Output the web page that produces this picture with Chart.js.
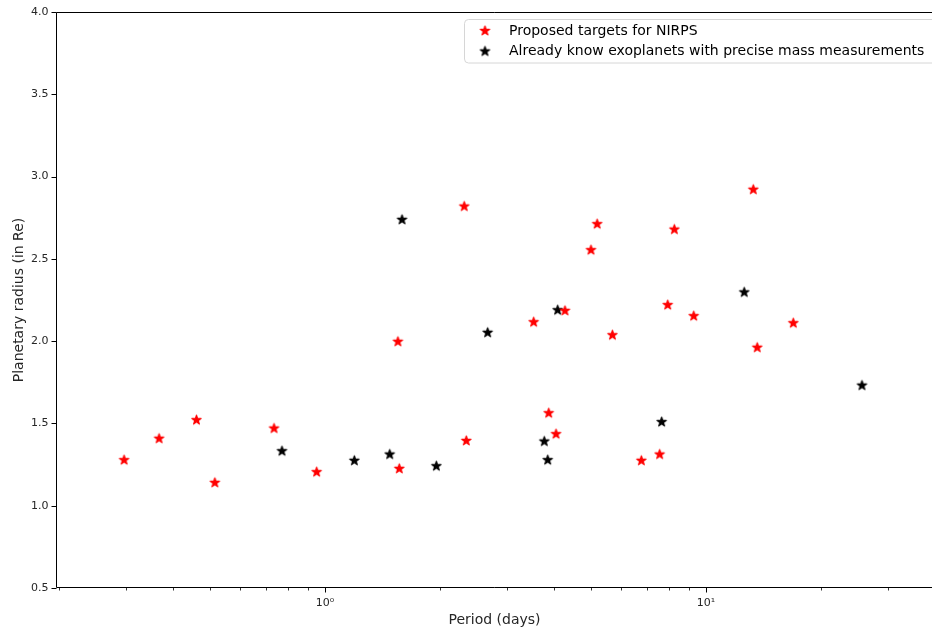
<!DOCTYPE html>
<html>
<head>
<meta charset="utf-8">
<script src="https://cdn.jsdelivr.net/npm/chart.js@4/dist/chart.umd.min.js"></script>
<style>
  html, body { margin: 0; padding: 0; background: #ffffff; overflow: hidden; }
  #wrap { width: 932px; height: 630px; }
</style>
</head>
<body>
<div id="wrap"><canvas id="c" width="932" height="630"></canvas></div>
<script>
// ---- data ----
const nirpsPeriod = [0.297, 0.367, 0.46, 0.514, 0.735, 0.951, 1.554, 1.567, 2.32, 2.349, 3.529, 3.865, 4.04, 4.265, 4.99, 5.18, 5.68, 6.765, 7.558, 7.935, 8.258, 9.284, 13.31, 13.63, 16.95];
const nirpsRadius = [1.28, 1.41, 1.523, 1.142, 1.472, 1.207, 1.999, 1.227, 2.821, 1.397, 2.118, 1.565, 1.438, 2.187, 2.556, 2.714, 2.039, 1.276, 1.314, 2.222, 2.681, 2.155, 2.923, 1.963, 2.112];
const knownPeriod = [0.771, 1.194, 1.479, 1.593, 1.96, 2.673, 3.764, 3.842, 4.08, 7.65, 12.6, 25.67];
const knownRadius = [1.334, 1.276, 1.314, 2.74, 1.243, 2.054, 1.393, 1.28, 2.191, 1.511, 2.299, 1.733];

const seriesLabels = ['Proposed targets for NIRPS', 'Already know exoplanets with precise mass measurements'];
const xTickValues = [0.2, 0.3, 0.4, 0.5, 0.6, 0.7, 0.8, 0.9, 1, 2, 3, 4, 5, 6, 7, 8, 9, 10, 20, 30];
const xMajorLabels = { 1: '10\u2070', 10: '10\u00B9' };
const yTickValues = [0.5, 1.0, 1.5, 2.0, 2.5, 3.0, 3.5, 4.0];
const xTitle = 'Period (days)';
const yTitle = 'Planetary radius (in Re)';

const FONT = 'DejaVu Sans';

function makeStar(color) {
  const size = 13;
  const cv = document.createElement('canvas');
  cv.width = size; cv.height = size;
  const g = cv.getContext('2d');
  const cx = size / 2, cy = size / 2 + 0.4;
  const R = 4.9, r = R * 0.381966;
  g.beginPath();
  for (let i = 0; i < 10; i++) {
    const rad = (i % 2 === 0) ? R : r;
    const a = -Math.PI / 2 + i * Math.PI / 5;
    const px = cx + rad * Math.cos(a), py = cy + rad * Math.sin(a);
    if (i === 0) g.moveTo(px, py); else g.lineTo(px, py);
  }
  g.closePath();
  g.fillStyle = color; g.fill();
  g.lineWidth = 1.2; g.lineJoin = 'round'; g.strokeStyle = color; g.stroke();
  return cv;
}
const redStar = makeStar('#ff0000');
const blackStar = makeStar('#000000');

const toPts = (xs, ys) => xs.map((x, i) => ({ x: x, y: ys[i] }));

const zeroPad = s => { s.paddingTop = 0; s.paddingBottom = 0; s.paddingLeft = 0; s.paddingRight = 0; };

const framePlugin = {
  id: 'frame',
  afterDraw(chart) {
    const ctx = chart.ctx;
    const a = chart.chartArea;
    const xs = chart.scales.x, ys = chart.scales.y;
    ctx.save();
    ctx.strokeStyle = '#000000';
    ctx.lineWidth = 1;
    const L = Math.round(a.left) - 0.5, T = Math.round(a.top) + 0.5, B = Math.round(a.bottom) - 0.5;
    ctx.beginPath();
    ctx.moveTo(L, B); ctx.lineTo(L, T); ctx.lineTo(chart.width, T);
    ctx.moveTo(L, B); ctx.lineTo(chart.width, B);
    ctx.stroke();
    // tick marks
    xTickValues.forEach(v => {
      const px = Math.round(xs.getPixelForValue(v)) + 0.5;
      const major = (v === 1 || v === 10);
      const len = major ? 5 : 3;
      ctx.lineWidth = major ? 1 : 0.8;
      ctx.beginPath(); ctx.moveTo(px, B); ctx.lineTo(px, B + len); ctx.stroke();
    });
    ctx.lineWidth = 1;
    yTickValues.forEach(v => {
      const py = Math.round(ys.getPixelForValue(v)) + 0.5;
      ctx.beginPath(); ctx.moveTo(L, py); ctx.lineTo(L - 5, py); ctx.stroke();
    });
    // legend
    const bx = 464.5, by = 19.5, bw = 520, bh = 43.5, rr = 4;
    ctx.globalAlpha = 0.8;
    ctx.fillStyle = '#ffffff';
    ctx.beginPath();
    ctx.roundRect(bx, by, bw, bh, rr);
    ctx.fill();
    ctx.globalAlpha = 1;
    ctx.strokeStyle = '#d6d6d6';
    ctx.lineWidth = 1;
    ctx.stroke();
    const rows = [30.5, 51];
    chart.data.datasets.forEach((ds, i) => {
      const img = ds.pointStyle;
      ctx.drawImage(img, 485 - img.width / 2, rows[i] - img.height / 2);
      ctx.fillStyle = '#000000';
      ctx.font = '14px "' + FONT + '"';
      ctx.textBaseline = 'middle';
      ctx.textAlign = 'left';
      ctx.fillText(ds.label, 509, rows[i] + 0.5);
    });
    ctx.restore();
  }
};

new Chart(document.getElementById('c'), {
  type: 'scatter',
  data: {
    datasets: [
      { label: seriesLabels[0], data: toPts(nirpsPeriod, nirpsRadius), pointStyle: redStar, pointRadius: 6, pointHoverRadius: 6, backgroundColor: '#ff0000', borderColor: '#ff0000' },
      { label: seriesLabels[1], data: toPts(knownPeriod, knownRadius), pointStyle: blackStar, pointRadius: 6, pointHoverRadius: 6, backgroundColor: '#000000', borderColor: '#000000' }
    ]
  },
  options: {
    responsive: false,
    animation: false,
    devicePixelRatio: 1,
    layout: { autoPadding: false, padding: { top: 12, left: 0, right: 0, bottom: 0 } },
    plugins: { legend: { display: false }, tooltip: { enabled: false } },
    scales: {
      x: {
        type: 'logarithmic',
        min: 0.198,
        max: 39.19,
        afterBuildTicks: s => { s.ticks = xTickValues.map(v => ({ value: v, major: (v === 1 || v === 10) })); },
        afterFit: s => { s.height = 42; zeroPad(s); },
        grid: { display: false, drawTicks: false },
        border: { display: false },
        ticks: {
          autoSkip: false, maxRotation: 0, minRotation: 0, padding: 9,
          color: '#262626',
          font: { family: FONT, size: 11 },
          callback: v => (xMajorLabels[v] !== undefined ? xMajorLabels[v] : '')
        },
        title: { display: true, text: xTitle, color: '#262626', font: { family: FONT, size: 14 }, padding: { top: 0, bottom: 1.5 } }
      },
      y: {
        type: 'linear',
        min: 0.5,
        max: 4.0,
        afterBuildTicks: s => { s.ticks = yTickValues.map(v => ({ value: v })); },
        afterFit: s => { s.width = 57; zeroPad(s); },
        grid: { display: false, drawTicks: false },
        border: { display: false },
        ticks: {
          padding: 8.5,
          color: '#262626',
          font: { family: FONT, size: 11 },
          callback: v => Number(v).toFixed(1)
        },
        title: { display: true, text: yTitle, color: '#262626', font: { family: FONT, size: 14 }, padding: { top: 10.5, bottom: 0 } }
      }
    }
  },
  plugins: [framePlugin]
});
</script>
</body>
</html>
